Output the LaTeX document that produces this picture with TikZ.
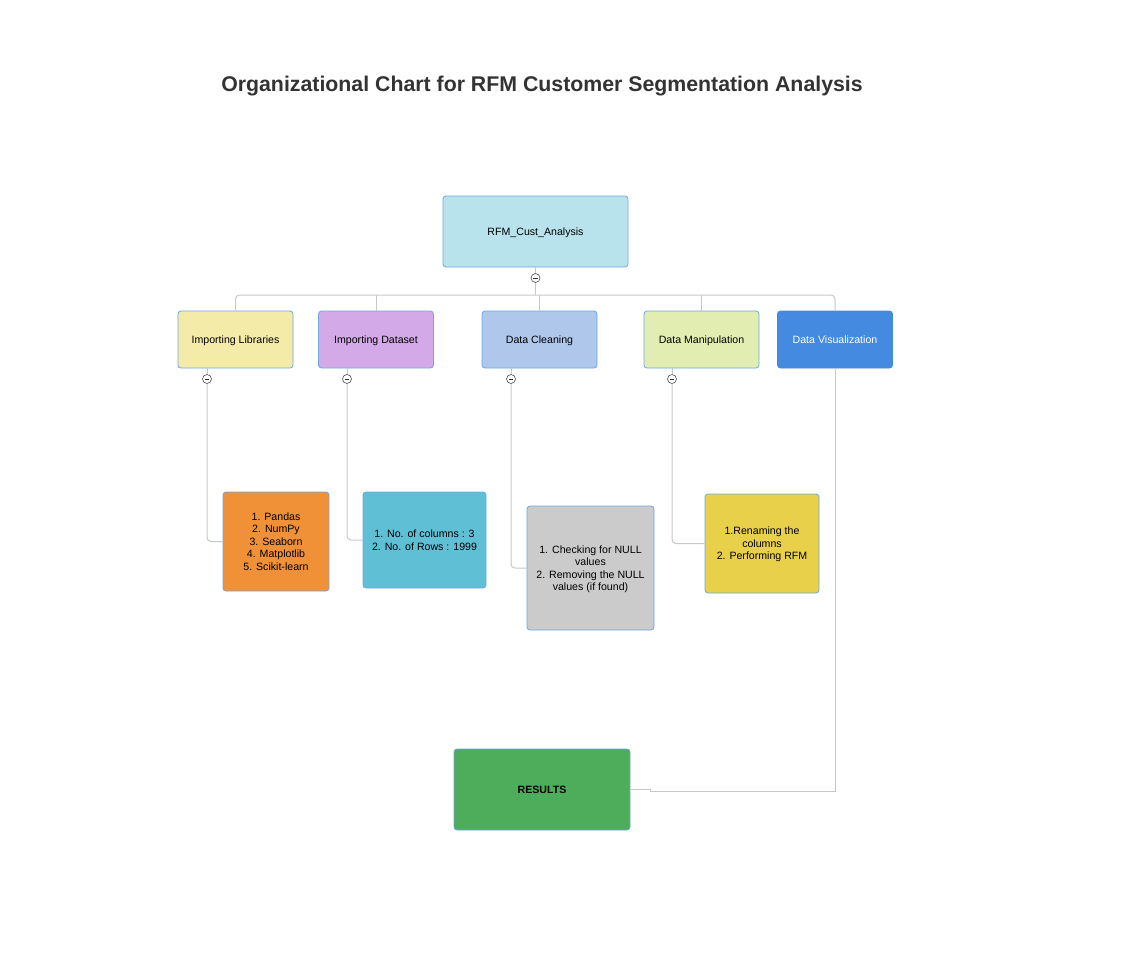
\documentclass[tikz,border=0pt]{standalone}
\usepackage{fontspec}
\setmainfont{Liberation Sans}
\definecolor{bordc}{HTML}{6EA6E6}
\definecolor{linec}{HTML}{C8C8C8}
\definecolor{titlec}{HTML}{333333}
\definecolor{rootc}{HTML}{B9E3EC}
\definecolor{libc}{HTML}{F5EBA9}
\definecolor{dsc}{HTML}{D3A9E7}
\definecolor{cleanc}{HTML}{AEC7EA}
\definecolor{manc}{HTML}{E1EDB1}
\definecolor{visc}{HTML}{438AE0}
\definecolor{pandc}{HTML}{F09138}
\definecolor{dssubc}{HTML}{5FBFD4}
\definecolor{clsubc}{HTML}{CBCBCB}
\definecolor{mansubc}{HTML}{E8D04B}
\definecolor{resc}{HTML}{4EAD5B}
\begin{document}
\begin{tikzpicture}[x=1pt,y=-1pt,
  box/.style={draw=bordc, line width=0.8pt, rounded corners=3pt, align=center,
    font=\fontsize{10.6}{12.5}\selectfont, inner sep=2pt, text=black, text depth=-1.5pt},
  conn/.style={draw=linec, line width=1pt, rounded corners=4pt},
  collapse/.style={circle, draw=black!70, fill=white, line width=0.6pt, minimum size=9pt, inner sep=0pt,
    path picture={\draw[black!80, line width=0.6pt] ([xshift=-2.2pt]path picture bounding box.center) -- ([xshift=2.2pt]path picture bounding box.center);}}
]
\useasboundingbox (0,0) rectangle (1126,962);
\node[font=\fontsize{21.3}{25}\selectfont\bfseries, text=titlec] (title) at (542,86) {Organizational Chart for RFM Customer Segmentation Analysis};

\node[box, fill=rootc, minimum width=185pt, minimum height=71pt] (root) at (535.5,231.5) {RFM\_Cust\_Analysis};

\node[box, fill=libc, minimum width=115pt, minimum height=57pt] (lib) at (235.5,339.5) {Importing Libraries};
\node[box, fill=dsc, minimum width=115pt, minimum height=57pt] (ds) at (376,339.5) {Importing Dataset};
\node[box, fill=cleanc, minimum width=115pt, minimum height=57pt] (clean) at (539.5,339.5) {Data Cleaning};
\node[box, fill=manc, minimum width=115pt, minimum height=57pt] (man) at (701.5,339.5) {Data Manipulation};
\node[box, draw=visc, fill=visc, text=white, minimum width=115pt, minimum height=57pt] (vis) at (835,339.5) {Data Visualization};

\node[box, fill=pandc, minimum width=106pt, minimum height=99pt] (pand) at (276,541.5) {1. Pandas\\2. NumPy\\3. Seaborn\\4. Matplotlib\\5. Scikit-learn};
\node[box, fill=dssubc, minimum width=123pt, minimum height=96pt] (dssub) at (424.5,540) {1. No. of columns : 3\\2. No. of Rows : 1999};
\node[box, fill=clsubc, minimum width=127pt, minimum height=124pt] (clsub) at (590.5,568) {1. Checking for NULL\\values\\2. Removing the NULL\\values (if found)};
\node[box, fill=mansubc, minimum width=114pt, minimum height=99pt] (mansub) at (762,543.5) {1.Renaming the\\columns\\2. Performing RFM};

\node[box, fill=resc, minimum width=176pt, minimum height=81pt, font=\fontsize{10.6}{12.5}\selectfont\bfseries] (res) at (542,789.5) {RESULTS};

\node[collapse] (c0) at (535.5,278) {};
\node[collapse] (c1) at (207,379) {};
\node[collapse] (c2) at (347,379) {};
\node[collapse] (c3) at (511,379) {};
\node[collapse] (c4) at (672,379) {};

\coordinate (bus) at (535.5,295);

% root to bus
\draw[conn] (root.south) -- (c0.north);
\draw[conn] (c0.south) -- (bus);
\draw[conn] (lib.north) |- (bus) -| (vis.north);
\draw[conn] (ds.north) -- (ds.north |- bus);
\draw[conn] (clean.north) -- (clean.north |- bus);
\draw[conn] (man.north) -- (man.north |- bus);

% child to collapse circles
\draw[conn] (lib.south -| c1) -- (c1.north);
\draw[conn] (ds.south -| c2) -- (c2.north);
\draw[conn] (clean.south -| c3) -- (c3.north);
\draw[conn] (man.south -| c4) -- (c4.north);

% collapse to sub nodes
\draw[conn] (c1.south) |- (pand.west);
\draw[conn] (c2.south) |- (dssub.west);
\draw[conn] (c3.south) |- (clsub.west);
\draw[conn] (c4.south) |- (mansub.west);

% visualization to results
\coordinate (jog) at (650,791);
\draw[conn, rounded corners=0pt] (vis.south) |- (jog) -- (jog |- res.east) -- (res.east);
\end{tikzpicture}
\end{document}
